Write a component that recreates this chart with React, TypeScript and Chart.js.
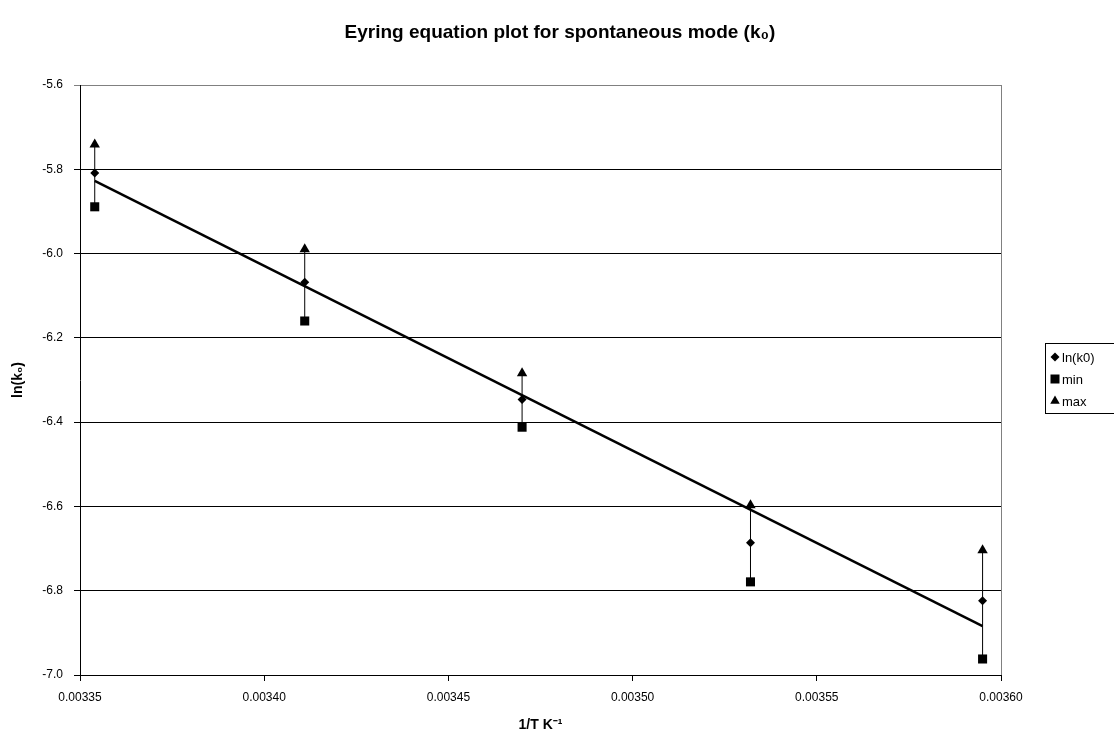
import { useEffect, useRef } from "react";
import { Chart, registerables } from "chart.js";

Chart.register(...registerables);

// 1/T (K^-1) for 25, 20, 15, 10, 5 °C
const invTemperature = [0.003354, 0.003411, 0.00347, 0.003532, 0.003595];
const lnK0 = [-5.809, -6.068, -6.346, -6.686, -6.824];
const minValues = [-5.889, -6.16, -6.412, -6.779, -6.962];
const maxValues = [-5.741, -5.99, -6.284, -6.597, -6.704];

const xTickValues = [0.00335, 0.0034, 0.00345, 0.0035, 0.00355, 0.0036];
const yTickValues = [-7.0, -6.8, -6.6, -6.4, -6.2, -6.0, -5.8, -5.6];

const legendLabels = ["ln(k0)", "min", "max"];
const titleText = "Eyring equation plot for spontaneous mode (k\u2080)";
const xTitle = "1/T K\u207B\u00B9";
const yTitle = "ln(k\u2080)";

const FONT = "'Liberation Sans', Arial, Helvetica, sans-serif";

function linearFit(xs: number[], ys: number[]) {
  const n = xs.length;
  const mx = xs.reduce((a, b) => a + b, 0) / n;
  const my = ys.reduce((a, b) => a + b, 0) / n;
  let sxy = 0;
  let sxx = 0;
  for (let i = 0; i < n; i++) {
    sxy += (xs[i] - mx) * (ys[i] - my);
    sxx += (xs[i] - mx) * (xs[i] - mx);
  }
  const slope = sxy / sxx;
  return { slope, intercept: my - slope * mx };
}

function drawMarker(ctx: CanvasRenderingContext2D, kind: string, x: number, y: number) {
  ctx.beginPath();
  if (kind === "diamond") {
    const r = 4.5;
    ctx.moveTo(x, y - r);
    ctx.lineTo(x + r, y);
    ctx.lineTo(x, y + r);
    ctx.lineTo(x - r, y);
    ctx.closePath();
  } else if (kind === "square") {
    const s = 4.5;
    ctx.rect(x - s, y - s, 2 * s, 2 * s);
  } else {
    const r = 5.5;
    ctx.moveTo(x, y - r);
    ctx.lineTo(x + r * 0.866, y + r * 0.5);
    ctx.lineTo(x - r * 0.866, y + r * 0.5);
    ctx.closePath();
  }
  ctx.fill();
}

const decorPlugin = {
  id: "decor",
  afterDraw(chart: any) {
    const { ctx, chartArea } = chart;
    ctx.save();
    // right plot border
    ctx.strokeStyle = "#808080";
    ctx.lineWidth = 1;
    ctx.beginPath();
    const rx = Math.round(chartArea.right) + 0.5;
    ctx.moveTo(rx, Math.round(chartArea.top));
    ctx.lineTo(rx, Math.round(chartArea.bottom));
    ctx.stroke();

    // title
    ctx.fillStyle = "#000";
    ctx.font = `bold 19px ${FONT}`;
    ctx.textAlign = "center";
    ctx.textBaseline = "middle";
    ctx.fillText(titleText, 560, 33);

    // legend
    const lx = 1045.5;
    const ly = 343.5;
    ctx.strokeStyle = "#000";
    ctx.lineWidth = 1;
    ctx.strokeRect(lx, ly, 90, 70);
    const kinds = ["diamond", "square", "triangle"];
    ctx.font = `13px ${FONT}`;
    ctx.textAlign = "left";
    ctx.textBaseline = "middle";
    legendLabels.forEach((label, i) => {
      const y = 357 + i * 22;
      drawMarker(ctx, kinds[i], 1055, y);
      ctx.fillText(label, 1062, y + 1);
    });
    ctx.restore();
  },
};

export default function App() {
  const canvasRef = useRef<HTMLCanvasElement | null>(null);

  useEffect(() => {
    document.body.style.margin = "0";
    document.body.style.overflow = "hidden";
    const canvas = canvasRef.current;
    if (!canvas) return;

    const fit = linearFit(invTemperature, lnK0);
    const x0 = invTemperature[0];
    const x1 = invTemperature[invTemperature.length - 1];
    const trend = [
      { x: x0, y: fit.intercept + fit.slope * x0 },
      { x: x1, y: fit.intercept + fit.slope * x1 },
    ];

    const errorBars: { x: number; y: number | null }[] = [];
    invTemperature.forEach((x, i) => {
      errorBars.push({ x, y: minValues[i] });
      errorBars.push({ x, y: maxValues[i] });
      errorBars.push({ x, y: null });
    });

    const pts = (vals: number[]) => invTemperature.map((x, i) => ({ x, y: vals[i] }));

    const chart = new Chart(canvas, {
      type: "scatter",
      data: {
        datasets: [
          {
            label: legendLabels[0],
            data: pts(lnK0),
            pointStyle: "rectRot",
            pointRadius: 4.5,
            backgroundColor: "#000",
            borderColor: "#000",
            borderWidth: 0,
            showLine: false,
            order: 0,
          },
          {
            label: legendLabels[1],
            data: pts(minValues),
            pointStyle: "rect",
            pointRadius: 6.4,
            backgroundColor: "#000",
            borderColor: "#000",
            borderWidth: 0,
            showLine: false,
            order: 0,
          },
          {
            label: legendLabels[2],
            data: pts(maxValues),
            pointStyle: "triangle",
            pointRadius: 6,
            backgroundColor: "#000",
            borderColor: "#000",
            borderWidth: 0,
            showLine: false,
            order: 0,
          },
          {
            label: "trend",
            data: trend,
            showLine: true,
            borderColor: "#000",
            borderWidth: 2.5,
            pointRadius: 0,
            order: 1,
          },
          {
            label: "range",
            data: errorBars as any,
            showLine: true,
            spanGaps: false,
            borderColor: "#000",
            borderWidth: 1,
            pointRadius: 0,
            order: 2,
          },
        ],
      },
      options: {
        animation: false,
        responsive: true,
        maintainAspectRatio: false,
        layout: { padding: { top: 85, right: 113, left: 0, bottom: 0 } },
        plugins: {
          legend: { display: false },
          title: { display: false },
          tooltip: { enabled: false },
        },
        scales: {
          x: {
            type: "linear",
            min: xTickValues[0],
            max: xTickValues[xTickValues.length - 1],
            afterBuildTicks: (scale: any) => {
              scale.ticks = xTickValues.map((v) => ({ value: v }));
            },
            afterFit: (scale: any) => {
              scale.height = 67;
            },
            ticks: {
              color: "#000",
              font: { family: FONT, size: 12 },
              padding: 9,
              maxRotation: 0,
              autoSkip: false,
              callback: (v: any) => Number(v).toFixed(5),
            },
            grid: {
              drawOnChartArea: false,
              drawTicks: true,
              tickLength: 6,
              color: "#000",
            },
            border: { display: true, color: "#000", width: 1 },
            title: {
              display: true,
              text: xTitle,
              color: "#000",
              font: { family: FONT, size: 14, weight: "bold" },
              padding: { top: 0, bottom: 8 },
            },
          },
          y: {
            type: "linear",
            min: yTickValues[0],
            max: yTickValues[yTickValues.length - 1],
            afterBuildTicks: (scale: any) => {
              scale.ticks = yTickValues.map((v) => ({ value: v }));
            },
            afterFit: (scale: any) => {
              scale.width = 80;
            },
            ticks: {
              color: "#000",
              font: { family: FONT, size: 12 },
              padding: 11,
              autoSkip: false,
              callback: (v: any) => Number(v).toFixed(1),
            },
            grid: {
              drawOnChartArea: true,
              drawTicks: true,
              tickLength: 6,
              color: (ctx: any) =>
                ctx.tick && Math.abs(ctx.tick.value - yTickValues[yTickValues.length - 1]) < 1e-9
                  ? "#808080"
                  : "#000",
            },
            border: { display: true, color: "#000", width: 1 },
            title: {
              display: true,
              text: yTitle,
              color: "#000",
              font: { family: FONT, size: 14, weight: "bold" },
              padding: { top: 10, bottom: 0 },
            },
          },
        },
      },
      plugins: [decorPlugin],
    });

    return () => chart.destroy();
  }, []);

  return (
    <div style={{ width: "1114px", height: "742px", position: "relative" }}>
      <canvas ref={canvasRef} />
    </div>
  );
}
